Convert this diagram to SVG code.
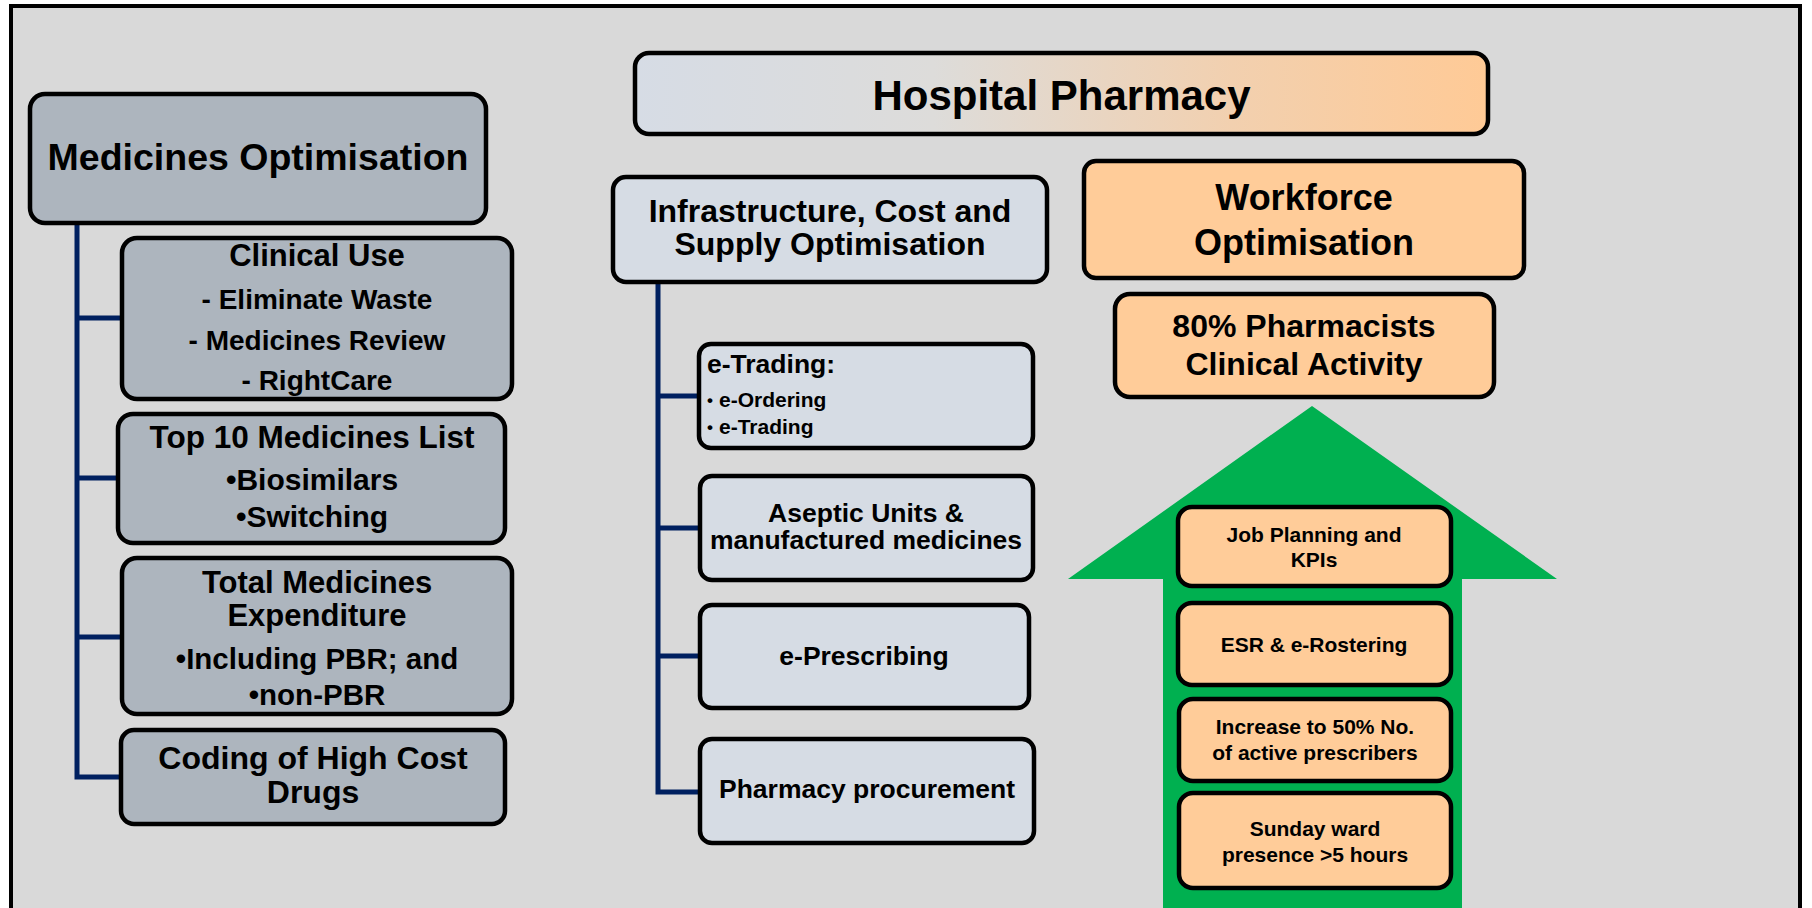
<svg xmlns="http://www.w3.org/2000/svg" width="1812" height="908" viewBox="0 0 1812 908">
<defs>
<linearGradient id="titleGrad" x1="0" y1="0" x2="1" y2="0">
<stop offset="0" stop-color="#d6dce5"/>
<stop offset="0.35" stop-color="#dddcda"/>
<stop offset="0.7" stop-color="#f2d0af"/>
<stop offset="1" stop-color="#ffca96"/>
</linearGradient>
<style>
text{font-family:"Liberation Sans",Arial,sans-serif;font-weight:bold;fill:#000}
.c{text-anchor:middle}
.box{stroke:#000;stroke-width:4.5}
.grey{fill:#adb5be}
.light{fill:#d6dce4}
.peach{fill:#ffcc99}
.conn{stroke:#002060;stroke-width:5;fill:none}
</style>
</defs>
<rect x="0" y="0" width="1812" height="908" fill="#ffffff"/>
<rect x="11" y="6" width="1789" height="1000" fill="#d9d9d9" stroke="#000" stroke-width="4"/>

<g id="connectors">
<polyline class="conn" points="77,223 77,777 122,777"/>
<line class="conn" x1="77" y1="318" x2="122" y2="318"/>
<line class="conn" x1="77" y1="478" x2="118" y2="478"/>
<line class="conn" x1="77" y1="637" x2="122" y2="637"/>
<polyline class="conn" points="658,282 658,792 700,792"/>
<line class="conn" x1="658" y1="396" x2="699" y2="396"/>
<line class="conn" x1="658" y1="528" x2="700" y2="528"/>
<line class="conn" x1="658" y1="656" x2="700" y2="656"/>
</g>

<g id="growth-arrow">
<polygon points="1312,406 1557,579 1462,579 1462,908 1163,908 1163,579 1068,579" fill="#00b050"/>
</g>

<g id="hospital-pharmacy">
<rect class="box" x="635" y="53" width="853" height="81" rx="14" fill="url(#titleGrad)"/>
<text class="c" x="1061.5" y="110" font-size="42">Hospital Pharmacy</text>
</g>

<g id="medicines-optimisation">
<rect class="box grey" x="30" y="94" width="456" height="129" rx="15"/>
<text class="c" x="258" y="170" font-size="37.5">Medicines Optimisation</text>
</g>

<g id="clinical-use">
<rect class="box grey" x="122" y="238" width="390" height="161" rx="15"/>
<text class="c" x="317" y="266" font-size="31">Clinical Use</text>
<text class="c" x="317" y="309" font-size="28">- Eliminate Waste</text>
<text class="c" x="317" y="350" font-size="28">- Medicines Review</text>
<text class="c" x="317" y="390" font-size="28">- RightCare</text>
</g>

<g id="top-10">
<rect class="box grey" x="118" y="414" width="387" height="129" rx="15"/>
<text class="c" x="312" y="448" font-size="31.5">Top 10 Medicines List</text>
<text class="c" x="312" y="490" font-size="30">•Biosimilars</text>
<text class="c" x="312" y="527" font-size="30">•Switching</text>
</g>

<g id="total-medicines">
<rect class="box grey" x="122" y="558" width="390" height="156" rx="15"/>
<text class="c" x="317" y="593" font-size="31">Total Medicines</text>
<text class="c" x="317" y="626" font-size="31">Expenditure</text>
<text class="c" x="317" y="669" font-size="29.5">•Including PBR; and</text>
<text class="c" x="317" y="705" font-size="29.5">•non-PBR</text>
</g>

<g id="coding">
<rect class="box grey" x="121" y="730" width="384" height="94" rx="13"/>
<text class="c" x="313" y="769" font-size="32">Coding of High Cost</text>
<text class="c" x="313" y="803" font-size="32">Drugs</text>
</g>

<g id="infrastructure">
<rect class="box light" x="613" y="177" width="434" height="105" rx="13"/>
<text class="c" x="830" y="222" font-size="32">Infrastructure, Cost and</text>
<text class="c" x="830" y="255" font-size="32">Supply Optimisation</text>
</g>

<g id="e-trading">
<rect class="box light" x="699" y="344" width="334" height="104" rx="12"/>
<text x="707" y="373" font-size="26.5">e-Trading:</text>
<text x="707" y="406" font-size="17">•</text>
<text x="719" y="407" font-size="21">e-Ordering</text>
<text x="707" y="433" font-size="17">•</text>
<text x="719" y="434" font-size="21">e-Trading</text>
</g>

<g id="aseptic">
<rect class="box light" x="700" y="476" width="333" height="104" rx="12"/>
<text class="c" x="866" y="522" font-size="26.5">Aseptic Units &amp;</text>
<text class="c" x="866" y="549" font-size="26.5">manufactured medicines</text>
</g>

<g id="e-prescribing">
<rect class="box light" x="700" y="605" width="329" height="103" rx="12"/>
<text class="c" x="864" y="665" font-size="26.5">e-Prescribing</text>
</g>

<g id="procurement">
<rect class="box light" x="700" y="739" width="334" height="104" rx="12"/>
<text class="c" x="867" y="798" font-size="26.5">Pharmacy procurement</text>
</g>

<g id="workforce">
<rect class="box peach" x="1084" y="161" width="440" height="117" rx="12"/>
<text class="c" x="1304" y="210" font-size="36">Workforce</text>
<text class="c" x="1304" y="255" font-size="36">Optimisation</text>
</g>

<g id="pharmacists-80">
<rect class="box peach" x="1115" y="294" width="379" height="103" rx="15"/>
<text class="c" x="1304" y="337" font-size="32">80% Pharmacists</text>
<text class="c" x="1304" y="375" font-size="32">Clinical Activity</text>
</g>

<g id="job-planning">
<rect class="box peach" x="1178" y="507" width="273" height="79" rx="14"/>
<text class="c" x="1314" y="542" font-size="21">Job Planning and</text>
<text class="c" x="1314" y="567" font-size="21">KPIs</text>
</g>

<g id="esr">
<rect class="box peach" x="1178" y="603" width="273" height="82" rx="14"/>
<text class="c" x="1314" y="652" font-size="21">ESR &amp; e-Rostering</text>
</g>

<g id="prescribers">
<rect class="box peach" x="1179" y="699" width="272" height="82" rx="14"/>
<text class="c" x="1315" y="734" font-size="21">Increase to 50% No.</text>
<text class="c" x="1315" y="760" font-size="21">of active prescribers</text>
</g>

<g id="sunday">
<rect class="box peach" x="1179" y="793" width="272" height="95" rx="14"/>
<text class="c" x="1315" y="836" font-size="21">Sunday ward</text>
<text class="c" x="1315" y="862" font-size="21">presence &gt;5 hours</text>
</g>
</svg>
